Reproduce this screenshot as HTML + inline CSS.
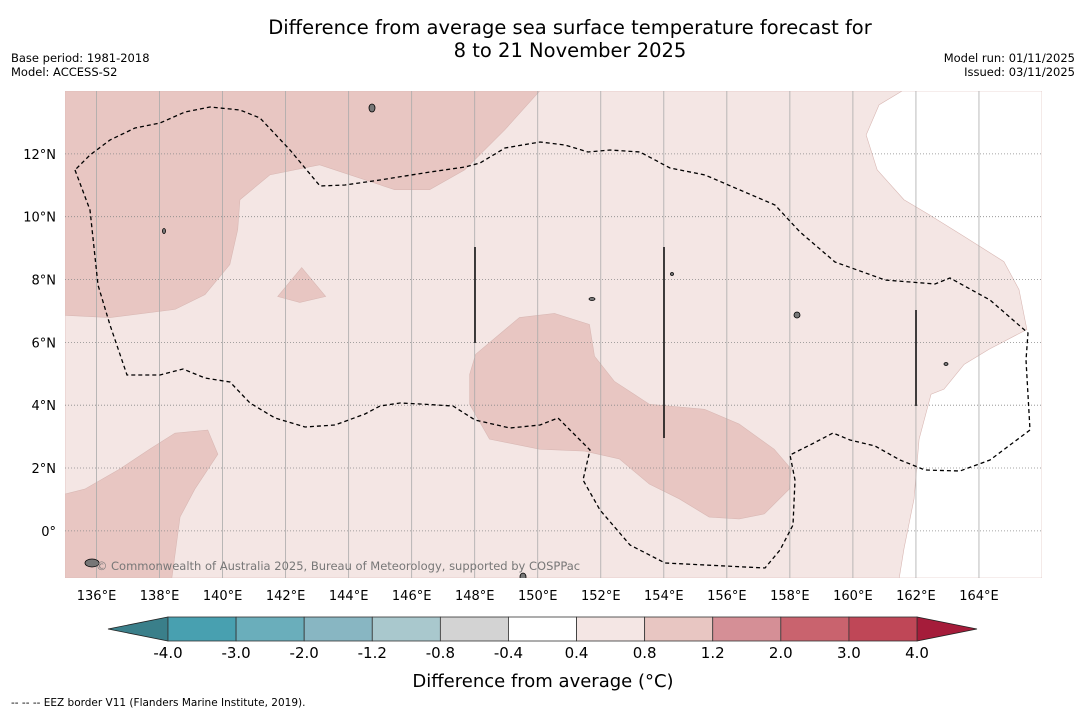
<!DOCTYPE html>
<html><head><meta charset="utf-8"><style>
body{margin:0;background:#fff;width:1085px;height:713px;overflow:hidden;font-family:"Liberation Sans","DejaVu Sans",sans-serif}
svg{display:block}
</style></head><body>
<svg id="s" width="1085" height="713" font-family="DejaVu Sans, Liberation Sans, sans-serif">
<text x="570" y="34" font-size="19.5" text-anchor="middle">Difference from average sea surface temperature forecast for</text>
<text x="570" y="57" font-size="19.5" text-anchor="middle">8 to 21 November 2025</text>
<text x="11" y="62" font-size="11.5">Base period: 1981-2018</text>
<text x="11" y="76" font-size="11.5">Model: ACCESS-S2</text>
<text x="1075" y="62" font-size="11.5" text-anchor="end">Model run: 01/11/2025</text>
<text x="1075" y="76" font-size="11.5" text-anchor="end">Issued: 03/11/2025</text>
<g id="map"></g>
<g id="cb"></g>
<text x="543" y="687" font-size="18" text-anchor="middle">Difference from average (°C)</text>
<text x="11" y="706" font-size="10.5">--  --  -- EEZ border V11 (Flanders Marine Institute, 2019).</text>
</svg>
<script>
const lonTicks=[136,138,140,142,144,146,148,150,152,154,156,158,160,162,164];
const latTicks=[0,2,4,6,8,10,12];
const cbBounds=[-4.0,-3.0,-2.0,-1.2,-0.8,-0.4,0.4,0.8,1.2,2.0,3.0,4.0];
const cbColors=["#48a0b0","#6aaebb","#88b6c2","#a9c8cd","#d3d3d3","#ffffff","#f4e6e4","#e8c6c2","#d58f96","#c9636e","#bf4757"];
const regionLight=[[135,14],[166,14],[166,-1.5],[135,-1.5]];
const regionA=[[135,14],[150.06,14],[148.95,12.76],[147.68,11.49],[146.57,10.86],[145.46,10.86],[143.08,11.65],[141.5,11.33],[140.55,10.54],[140.48,9.59],[140.23,8.48],[139.44,7.52],[138.49,7.05],[136.43,6.79],[135,6.86]];
const regionB=[[141.75,7.46],[142.51,8.38],[143.27,7.46],[142.45,7.27]];
const regionC=[[135,1.17],[135.63,1.33],[136.74,1.97],[137.69,2.6],[138.49,3.11],[139.53,3.21],[139.85,2.44],[139.12,1.33],[138.65,0.44],[138.39,-1.5],[135,-1.5]];
const regionD=[[148.03,5.62],[149.42,6.79],[150.53,6.92],[151.64,6.57],[151.8,5.56],[152.43,4.76],[153.54,4.03],[155.29,3.87],[156.39,3.4],[157.5,2.6],[158.04,1.97],[157.98,1.33],[157.19,0.54],[156.39,0.38],[155.44,0.44],[154.49,1.02],[153.54,1.49],[152.59,2.29],[151.48,2.54],[150.06,2.6],[148.47,2.92],[147.84,4.03],[147.84,4.98]];
const regionWhite=[[161.56,14],[160.83,13.56],[160.42,12.6],[160.77,11.49],[161.62,10.54],[162.42,10.06],[163.53,9.37],[164.79,8.57],[165.27,7.68],[165.52,6.41],[164.32,5.78],[163.53,5.3],[162.89,4.51],[162.48,4.35],[162.1,2.92],[161.94,1.02],[161.62,-0.57],[161.47,-1.5],[166,-1.5],[166,14]];
const X0=65,X1=1042,Y0=91,Y1=578;
const lonMin=135,lonMax=166,latMax=14,latMin=-1.5;
const xs=l=>X0+(l-lonMin)/(lonMax-lonMin)*(X1-X0);
const ys=l=>Y0+(latMax-l)/(latMax-latMin)*(Y1-Y0);
const NS="http://www.w3.org/2000/svg";
function mk(t,a,p){const e=document.createElementNS(NS,t);for(const k in a)e.setAttribute(k,a[k]);p.appendChild(e);return e;}
const map=document.getElementById('map');
const defs=mk('clipPath',{id:'clip'},map);mk('rect',{x:X0,y:Y0,width:X1-X0,height:Y1-Y0},defs);
const g=mk('g',{'clip-path':'url(#clip)'},map);
function poly(pts,fill,name){const e=mk('polygon',{points:pts.map(p=>xs(p[0])+','+ys(p[1])).join(' '),fill:fill,stroke:'#d9b8b4','stroke-width':0.6},g);

}
poly(regionLight,"#f4e6e4","anomaly-0.4-0.8-region");
poly(regionA,"#e8c6c2","anomaly-0.8-1.2-north-west");
poly(regionB,"#e8c6c2","anomaly-0.8-1.2-small");
poly(regionC,"#e8c6c2","anomaly-0.8-1.2-south-west");
poly(regionD,"#e8c6c2","anomaly-0.8-1.2-central");
poly(regionWhite,"#ffffff","anomaly-neutral-east");
lonTicks.forEach(l=>{const x=xs(l);
const ln=mk('line',{x1:x,y1:Y0,x2:x,y2:Y1,stroke:'#aaa','stroke-width':0.8},g);


const t=mk('text',{x:x,y:600,'font-size':13,'text-anchor':'middle'},map);t.textContent=l+'°E';

});
latTicks.forEach(l=>{const y=ys(l);
const ln=mk('line',{x1:X0,y1:y,x2:X1,y2:y,stroke:'#888','stroke-width':0.8,'stroke-dasharray':'1,2'},g);


const t=mk('text',{x:56,y:y+5,'font-size':13,'text-anchor':'end'},map);t.textContent=l===0?'0°':l+'°N';

});
const eez=mk('path',{d:"M75,170 L90,210 L98,285 L110,325 L127,375 L160,375 L183,369 L205,378 L230,382 L250,403 L275,418 L305,427 L335,425 L365,414 L380,406 L400,403 L420,404 L453,406 L475,420 L510,428 L540,425 L558,418 L575,435 L590,450 L583,480 L600,510 L630,545 L665,563 L765,568 L780,550 L793,525 L795,480 L790,455 L810,445 L833,433 L850,440 L875,446 L900,460 L925,470 L960,471 L990,460 L1030,430 L1026,360 L1028,333 L990,300 L950,278 L935,284 L885,280 L835,262 L800,232 L775,205 L740,190 L705,175 L670,168 L640,152 L610,150 L588,152 L565,145 L540,142 L505,148 L480,163 L465,167 L430,172 L380,180 L345,185 L320,186 L290,150 L260,118 L240,110 L210,107 L185,112 L160,123 L135,128 L110,140 L90,155 Z",fill:'none',stroke:'#000','stroke-width':1.3,'stroke-dasharray':'4,3'},g);


[[475,247,343],[664,247,438],[916,310,406]].forEach(v=>{const l=mk('line',{x1:v[0],y1:v[1],x2:v[0],y2:v[2],stroke:'#111','stroke-width':1.6},g);

});
[[372,108,3,4],[164,231,1.5,2.5],[797,315,3,3],[946,364,2,1.5],[592,299,3,1.5],[672,274,1.5,1.5],[523,577,3,4],[92,563,7,4]].forEach(s=>{const e=mk('ellipse',{cx:s[0],cy:s[1],rx:s[2],ry:s[3],fill:'#777',stroke:'#000','stroke-width':0.8},g);

});
const cr=mk('text',{x:338,y:570,'font-size':11.5,'text-anchor':'middle',fill:'#777'},map);cr.textContent='© Commonwealth of Australia 2025, Bureau of Meteorology, supported by COSPPac';


const cb=document.getElementById('cb');
const CB0=168,CB1=917,CY0=617,CY1=641,n=cbColors.length,w=(CB1-CB0)/n;
const lt=mk('polygon',{points:`108,629 ${CB0},${CY0} ${CB0},${CY1}`,fill:'#3a7f8a',stroke:'#222','stroke-width':0.8},cb);


const rt=mk('polygon',{points:`977,629 ${CB1},${CY0} ${CB1},${CY1}`,fill:'#a51c3a',stroke:'#222','stroke-width':0.8},cb);


cbColors.forEach((c,i)=>{const r=mk('rect',{x:CB0+i*w,y:CY0,width:w,height:CY1-CY0,fill:c,stroke:'#333','stroke-width':0.8},cb);

});
cbBounds.forEach((b,i)=>{const t=mk('text',{x:CB0+i*w,y:658,'font-size':15,'text-anchor':'middle'},cb);t.textContent=b.toFixed(1);

});
</script>
</body></html>
